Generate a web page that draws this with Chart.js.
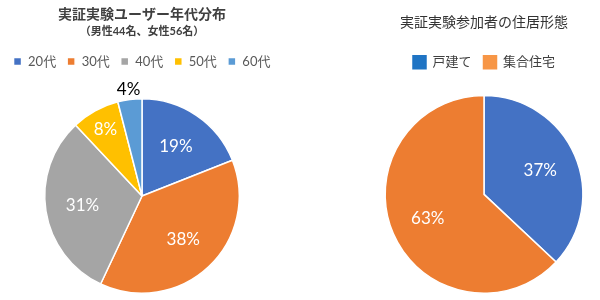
<!DOCTYPE html>
<html lang="ja">
<head>
  <meta charset="UTF-8" />
  <title>実証実験ユーザー属性</title>
  <script src="https://cdn.jsdelivr.net/npm/chart.js"></script>
  <style>
    body { margin: 0; background: #fff; width: 600px; height: 300px; position: relative; overflow: hidden; }
    .box { position: absolute; top: 0; height: 300px; }
    #leftBox { left: -3px; width: 290px; }
    #rightBox { left: 368px; width: 232px; }
  </style>
</head>
<body>
  <div class="box" id="leftBox"><canvas id="ageChart"></canvas></div>
  <div class="box" id="rightBox"><canvas id="houseChart"></canvas></div>
  <script>
    const ageLabels = ['20代', '30代', '40代', '50代', '60代'];
    const ageValues = [19, 38, 31, 8, 4];
    const ageColors = ['#4472C4', '#ED7D31', '#A5A5A5', '#FFC000', '#5B9BD5'];

    const houseLabels = ['戸建て', '集合住宅'];
    const houseValues = [37, 63];
    const houseColors = ['#4472C4', '#ED7D31'];
    const houseLegendColors = ['#1F74C4', '#F79646'];

    const FONT = "Lato, 'Noto Sans CJK JP', sans-serif";

    // draws the % labels on the slices (small ones go outside)
    const sliceLabels = {
      id: 'sliceLabels',
      afterDatasetsDraw(chart) {
        const ctx = chart.ctx;
        const meta = chart.getDatasetMeta(0);
        const vals = chart.data.datasets[0].data;
        ctx.save();
        ctx.font = '17px ' + FONT;
        ctx.textAlign = 'center';
        ctx.textBaseline = 'middle';
        meta.data.forEach((arc, i) => {
          const p = arc.getProps(['x', 'y', 'startAngle', 'endAngle', 'outerRadius'], true);
          const mid = (p.startAngle + p.endAngle) / 2;
          let r, color;
          if (vals[i] < 5) { r = p.outerRadius + 10; color = '#000'; }
          else if (vals[i] < 10) { r = p.outerRadius * 0.78; color = '#fff'; }
          else { r = p.outerRadius * 0.62; color = '#fff'; }
          ctx.fillStyle = color;
          ctx.fillText(vals[i] + '%', p.x + Math.cos(mid) * r, p.y + Math.sin(mid) * r);
        });
        ctx.restore();
      }
    };

    // extra space under the legend
    function legendGap(px) {
      return {
        id: 'legendGap',
        beforeInit(chart) {
          const fit = chart.legend.fit;
          chart.legend.fit = function () {
            fit.bind(chart.legend)();
            this.height += px;
          };
        }
      };
    }

    new Chart(document.getElementById('ageChart'), {
      type: 'pie',
      data: {
        labels: ageLabels,
        datasets: [{ data: ageValues, backgroundColor: ageColors, borderColor: '#fff', borderWidth: 1.5 }]
      },
      options: {
        responsive: true,
        maintainAspectRatio: false,
        animation: false,
        layout: { padding: { top: 0, bottom: 6, left: 0, right: 0 } },
        plugins: {
          title: {
            display: true, text: '実証実験ユーザー年代分布', color: '#404040',
            font: { family: FONT, size: 14, weight: 'bold' }, padding: { top: 6, bottom: 2 }
          },
          subtitle: {
            display: true, text: '（男性44名、女性56名）', color: '#404040',
            font: { family: FONT, size: 11, weight: 'bold' }, padding: { top: 0, bottom: 6 }
          },
          legend: {
            position: 'top',
            labels: {
              boxWidth: 8, boxHeight: 8, padding: 11, color: '#595959',
              font: { family: FONT, size: 13 }
            }
          },
          tooltip: { enabled: false }
        }
      },
      plugins: [sliceLabels, legendGap(20)]
    });

    new Chart(document.getElementById('houseChart'), {
      type: 'pie',
      data: {
        labels: houseLabels,
        datasets: [{ data: houseValues, backgroundColor: houseColors, borderColor: '#fff', borderWidth: 1.5 }]
      },
      options: {
        responsive: true,
        maintainAspectRatio: false,
        animation: false,
        layout: { padding: { top: 0, bottom: 6, left: 0, right: 0 } },
        plugins: {
          title: {
            display: true, text: '実証実験参加者の住居形態', color: '#333',
            font: { family: FONT, size: 14, weight: 'normal' }, padding: { top: 14, bottom: 13 }
          },
          legend: {
            position: 'top',
            labels: {
              boxWidth: 13, boxHeight: 13, padding: 12, color: '#404040',
              font: { family: FONT, size: 13 },
              generateLabels(chart) {
                return Chart.overrides.pie.plugins.legend.labels.generateLabels(chart).map((l, i) => {
                  l.fillStyle = houseLegendColors[i];
                  l.strokeStyle = houseLegendColors[i];
                  return l;
                });
              }
            }
          },
          tooltip: { enabled: false }
        }
      },
      plugins: [sliceLabels, legendGap(16)]
    });
  </script>
</body>
</html>
